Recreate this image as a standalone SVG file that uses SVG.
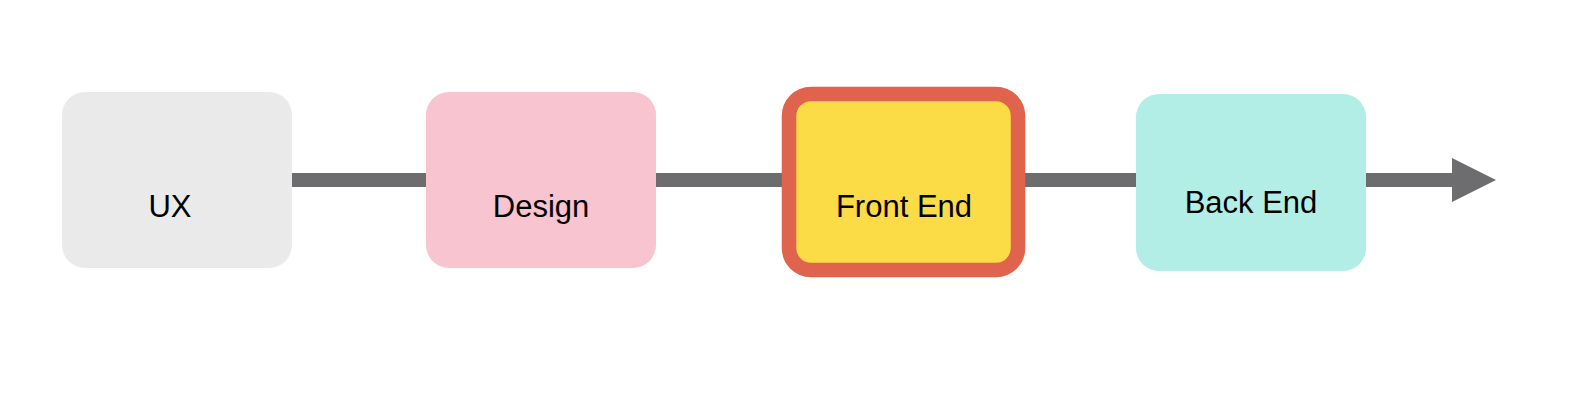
<svg xmlns="http://www.w3.org/2000/svg" width="1578" height="406" viewBox="0 0 1578 406">
<style>
  .lbl { font-family: "Liberation Sans", Arial, Helvetica, sans-serif; font-size: 31px; fill: #000; text-anchor: middle; }
  .conn { stroke: #6D6D6F; stroke-width: 14; fill: none; }
</style>
<rect x="0" y="0" width="1578" height="406" fill="#FFFFFF"/>
<g id="connectors">
  <line class="conn" x1="290" y1="180" x2="1454" y2="180"/>
  <polygon points="1452,158 1496,180 1452,202" fill="#6D6D6F"/>
</g>
<g id="node-ux">
  <rect x="62" y="92" width="230" height="176" rx="23" ry="23" fill="#EAEAEA"/>
  <text class="lbl" x="170" y="217">UX</text>
</g>
<g id="node-design">
  <rect x="426" y="92" width="230" height="176" rx="23" ry="23" fill="#F7C4CF"/>
  <text class="lbl" x="541" y="217">Design</text>
</g>
<g id="node-frontend">
  <rect x="789" y="94" width="229" height="176" rx="22" ry="22" fill="#FBDC47" stroke="#E0634E" stroke-width="14.5"/>
  <text class="lbl" x="904" y="217">Front End</text>
</g>
<g id="node-backend">
  <rect x="1136" y="94" width="230" height="177" rx="23" ry="23" fill="#B2EEE5"/>
  <text class="lbl" x="1251" y="213">Back End</text>
</g>
</svg>
